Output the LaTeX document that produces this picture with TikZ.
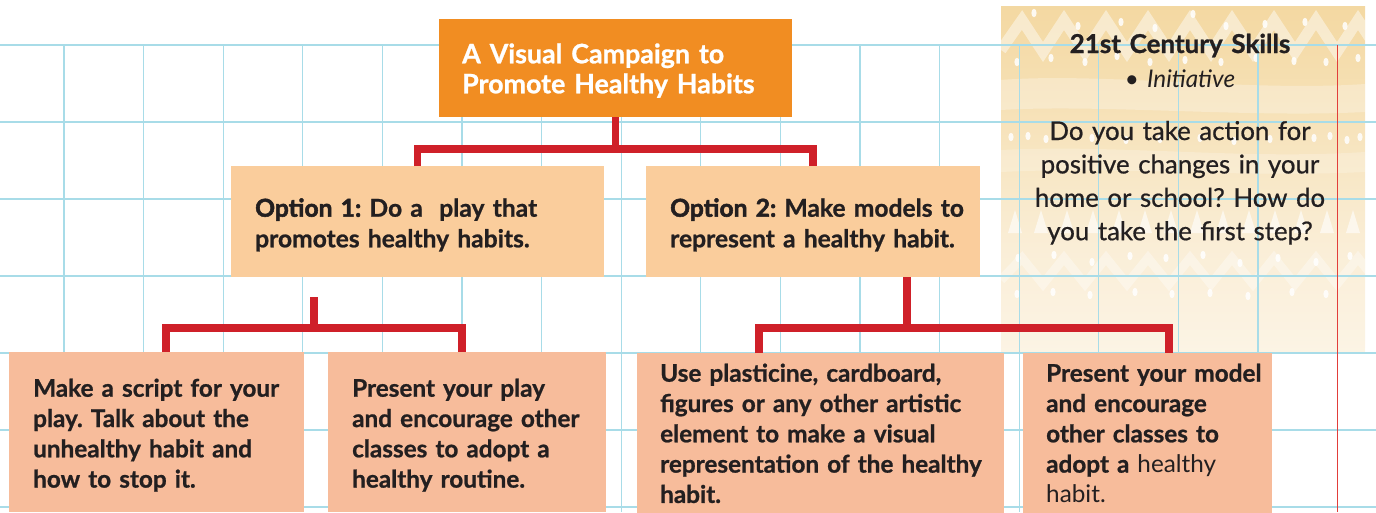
\documentclass[tikz,border=0pt]{standalone}
\usepackage{fontspec}
\setmainfont{Lato}[BoldFeatures={FakeBold=0.9}]
\newfontfamily\latoheavy{Lato}[BoldFeatures={FakeBold=2.2}]
\newfontfamily\latomed{Lato}[FakeBold=0.7]
\usetikzlibrary{calc}
\definecolor{gridblue}{RGB}{168,220,232}
\definecolor{titleorange}{RGB}{241,141,34}
\definecolor{optpeach}{RGB}{250,205,156}
\definecolor{stepsalmon}{RGB}{247,188,155}
\definecolor{connred}{RGB}{207,32,41}
\definecolor{marginred}{RGB}{226,62,58}
\definecolor{inkdark}{RGB}{35,31,32}
\definecolor{panelA}{RGB}{240,206,138}
\definecolor{panelB}{RGB}{242,212,152}
\definecolor{panelC}{RGB}{246,224,180}
\definecolor{panelD}{RGB}{250,238,215}
\pgfdeclareverticalshading{panelshade}{100bp}{color(0bp)=(white); color(4bp)=(white); color(20bp)=(panelD!55!white); color(40bp)=(panelD); color(62bp)=(panelC); color(82bp)=(panelB); color(100bp)=(panelA)}
\tikzset{
  gridline/.style={draw=gridblue, line width=1.3pt},
  conn/.style={draw=connred, line width=7.6pt, line join=miter},
  boxbase/.style={draw=none, inner sep=0pt, outer sep=0pt, anchor=north west},
  titlebox/.style={boxbase, fill=titleorange},
  optbox/.style={boxbase, fill=optpeach},
  stepbox/.style={boxbase, fill=stepsalmon},
  txt/.style={anchor=base west, align=left, inner sep=0pt, text=inkdark, text width=#1},
  titletxt/.style={txt=340pt, text=white, font=\bfseries\fontsize{26.8}{30}\selectfont},
  opttxt/.style={txt=380pt, font=\bfseries\fontsize{24.6}{30.6}\selectfont},
  steptxt/.style={txt=380pt, font=\bfseries\fontsize{24.3}{30.3}\selectfont},
  paneltxt/.style={anchor=base, align=center, inner sep=0pt, text=inkdark, text width=360pt},
  dot/.style={fill=white, opacity=0.85},
}
\begin{document}
\frenchspacing
\begin{tikzpicture}[x=1pt,y=-1pt]
\useasboundingbox (0,0) rectangle (1376,512);
% ---- right panel background
\shade[shading=panelshade] (1001,6) rectangle (1365,352);
\begin{scope}
\clip (1001,6) rectangle (1365,352);
% light wavy bands
\fill[white, opacity=0.28] (1001,80) .. controls (1100,72) and (1250,92) .. (1365,84) -- (1365,112) .. controls (1250,118) and (1100,104) .. (1001,110) -- cycle;
\fill[white, opacity=0.22] (1001,150) .. controls (1120,144) and (1240,160) .. (1365,152) -- (1365,172) .. controls (1240,178) and (1120,166) .. (1001,172) -- cycle;
% top zigzag band
\draw[white, opacity=0.45, line width=11pt, line join=miter]
  (1001,50) \foreach \i in {0,...,8} { -- ({1022+42*\i},20) -- ({1043+42*\i},52) };
% lower zigzag band
\draw[white, opacity=0.35, line width=9pt, line join=miter]
  (1001,280) \foreach \i in {0,...,8} { -- ({1022+42*\i},258) -- ({1043+42*\i},284) };
% triangles row
\foreach \x in {1008,1034,1060,1086,1112,1138,1164,1190,1216,1242,1268,1294,1320,1346} {
  \fill[white, opacity=0.6] (\x,233) -- (\x+7,210) -- (\x+14,233) -- cycle;
}
% dots
\foreach \x/\y in {1034/13,1078/26,1121/22,1155/28,1193/14,1226/26,1265/24,1305/22,1345/26,
                   1017/62,1051/58,1085/62,1117/56,1150/62,1185/60,1221/62,1256/58,1294/61,1326/62,1358/58,
                   1011/137,1028/136,1046/139,1314/138,1330/136,1347/140,1360/137,
                   1092/138,1126/140,1160/139,1200/138,1234/141,1270/139,
                   1018/258,1054/255,1092/262,1130/256,1166/258,1203/255,1240/263,1278/258,1316/262,1350/256,
                   1017/294,1053/292,1090/295,1135/292,1172/294,1210/293,1248/296,1292/292,1326/294}
  {\fill[dot] (\x,\y) ellipse (2.6pt and 4.2pt);}
\end{scope}
% ---- grid
\foreach \k in {0,...,15} {\draw[gridline] ({64+79.6*\k},45) -- ({64+79.6*\k},512);}
\foreach \k in {0,...,6} {\draw[gridline] (0,{45+77*\k}) -- (1376,{45+77*\k});}
\draw[draw=marginred, line width=1.5pt] (1337.6,45) -- (1337.6,512);
% ---- boxes
\node[titlebox, minimum width=353pt, minimum height=98pt] (title) at (439,19) {};
\node[optbox, minimum width=373pt, minimum height=111pt] (opt1) at (231,166) {};
\node[optbox, minimum width=334pt, minimum height=111pt] (opt2) at (646,166) {};
\node[stepbox, minimum width=295pt, minimum height=160pt] (stepA) at (9,352) {};
\node[stepbox, minimum width=278pt, minimum height=160pt] (stepB) at (328,352) {};
\node[stepbox, minimum width=367pt, minimum height=160pt] (stepC) at (637,353) {};
\node[stepbox, minimum width=249pt, minimum height=160pt] (stepD) at (1023,353) {};
% ---- connectors
\coordinate (t1) at (418,148.7);
\draw[conn] (title.south) -- (title.south |- t1);
\draw[conn] (opt1.north) -- (opt1.north |- t1) -- (opt2.north |- t1) -- (opt2.north);
\coordinate (s1) at (314,297);
\coordinate (j1) at (314,328);
\coordinate (la) at (166,328);
\coordinate (lb) at (462,328);
\draw[conn] (s1) -- (j1);
\draw[conn] (stepA.north -| la) -- (la) -- (lb) -- (stepB.north -| lb);
\coordinate (j2) at (907,328);
\coordinate (lc) at (759,328);
\coordinate (ld) at (1169,328);
\draw[conn] (opt2.south -| j2) -- (j2);
\draw[conn] (stepC.north -| lc) -- (lc) -- (ld) -- (stepD.north -| ld);
% ---- texts
\node[titletxt] (titletext) at (462,63.3) {A Visual Campaign to\\Promote Healthy Habits};
\node[opttxt] (opt1text) at (255,216.7) {{\latoheavy\bfseries Option 1:} Do a~ play that\\promotes healthy habits.};
\node[opttxt] (opt2text) at (670,216.7) {{\latoheavy\bfseries Option 2:} Make models to\\represent a healthy habit.};
\node[steptxt] (stepAtext) at (33,396.7) {Make a script for your\\play. Talk about the\\unhealthy habit and\\how to stop it.};
\node[steptxt] (stepBtext) at (352,396.7) {Present your play\\and encourage other\\classes to adopt a\\healthy routine.};
\node[steptxt] (stepCtext) at (660,381.7) {Use plasticine, cardboard,\\figures or any other artistic\\element to make a visual\\representation of the healthy\\habit.};
\node[steptxt] (stepDtext) at (1046,381.7) {Present your model\\and encourage\\other classes to\\adopt a \mdseries healthy\\habit.};
\node[paneltxt, font=\bfseries\fontsize{26}{30}\selectfont] (skills) at (1180,53) {21st Century Skills};
\node[paneltxt, font=\fontsize{24.3}{30}\selectfont] (initiative) at (1180,87.3) {• \itshape Initiative};
\node[paneltxt, font=\latomed\fontsize{25.8}{33.4}\selectfont] (question) at (1180,140) {Do you take action for\\positive changes in your\\home or school? How do\\you take the first step?};
\end{tikzpicture}
\end{document}
